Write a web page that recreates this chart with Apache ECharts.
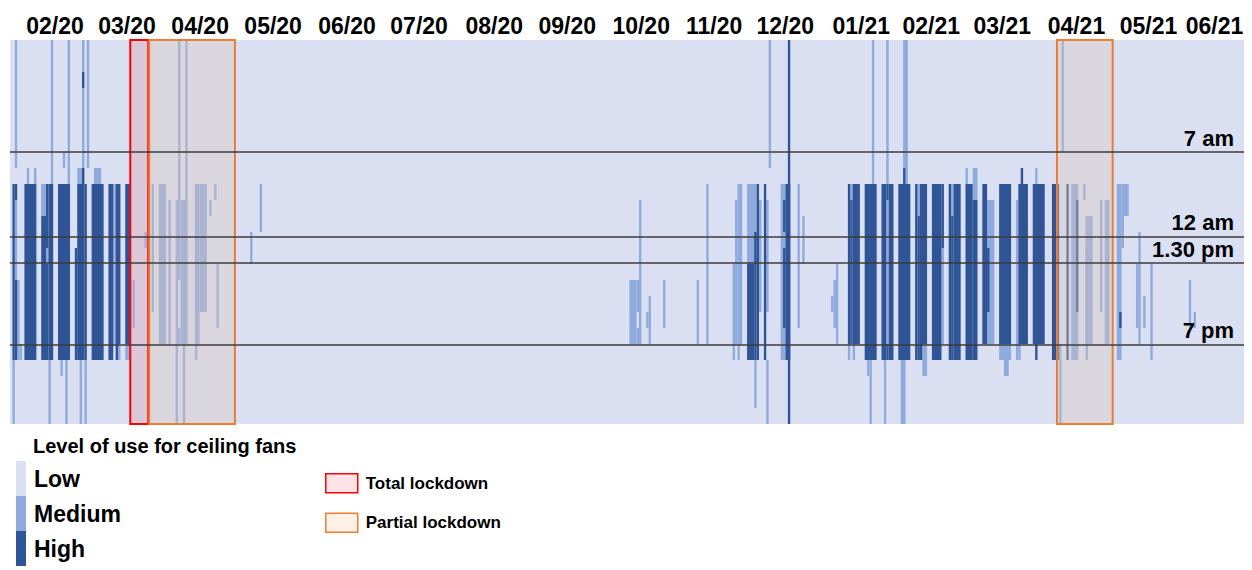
<!DOCTYPE html>
<html>
<head>
<meta charset="utf-8">
<script src="https://cdn.jsdelivr.net/npm/echarts@6/dist/echarts.min.js"></script>
<style>
  html, body { margin: 0; padding: 0; background: #ffffff; }
  #chart { width: 1252px; height: 570px; }
</style>
</head>
<body>
<div id="chart"></div>
<script>
// x = day index since start of the record, y = hour of day (0 at top)
var totalDays = 514;
var monthLabels = ['02/20', '03/20', '04/20', '05/20', '06/20', '07/20', '08/20', '09/20', '10/20',
  '11/20', '12/20', '01/21', '02/21', '03/21', '04/21', '05/21', '06/21'];
var monthLabelDays = [18.75, 48.75, 79.2, 109.6, 140.4, 170.4, 201.7, 232.1, 262.9,
  293.3, 322.9, 354.6, 383.75, 413.3, 444.2, 474.2, 501.7];

// reference hours drawn as lines
var hourLines = [7, 12.3, 13.95, 19.02];
var hourLineLabels = ['7 am', '12 am', '1.30 pm', '7 pm'];

// lockdown periods [fromDay, toDay]
var totalLockdown = [[50.1, 57.6]];
var partialLockdown = [[58, 93.7], [436.1, 459.3]];

// [firstDay, lastDay, fromHour, toHour] ; everything else is "Low"
var mediumStrips = [
  [2, 2, 0, 8], [17, 17, 0, 9], [24, 24, 0, 9], [22, 22, 7, 8], [30, 30, 0, 2], [30, 30, 3, 8], [32, 32, 0, 8],
  [7, 7, 8, 9], [10, 10, 8, 9], [28, 29, 8, 9], [35, 37, 8, 9],
  [2, 2, 10, 15], [3, 3, 15, 20], [4, 4, 19, 20],
  [13, 14, 9, 11], [15, 15, 13, 14],
  [43, 43, 9, 19], [45, 45, 19, 20], [48, 49, 19, 20],
  [1, 1, 20, 24], [16, 16, 20, 24], [21, 21, 20, 21], [23, 23, 20, 24], [29, 29, 20, 24], [31, 31, 20, 24],
  [51, 51, 15, 18], [56, 56, 12, 13],
  [59, 59, 9, 17], [62, 64, 9, 19], [66, 66, 10, 19], [69, 69, 10, 19], [70, 70, 0, 15], [70, 70, 18, 19],
  [71, 73, 10, 19], [73, 73, 0, 10], [69, 69, 19, 24], [72, 72, 19, 24],
  [77, 78, 9, 19], [79, 81, 9, 17], [77, 77, 19, 20],
  [83, 83, 10, 11], [85, 85, 9, 10], [86, 86, 14, 18],
  [100, 100, 12, 14], [104, 104, 9, 12],
  [258, 260, 15, 19], [261, 261, 15, 17], [261, 261, 18, 19], [262, 262, 10, 19],
  [265, 265, 17, 18], [266, 266, 16, 19], [272, 272, 15, 18], [286, 286, 15, 19], [290, 290, 9, 19],
  [301, 301, 14, 20], [302, 302, 10, 19], [303, 304, 9, 19], [303, 303, 19, 20],
  [307, 310, 9, 14], [310, 310, 20, 23], [312, 312, 10, 17],
  [315, 315, 10, 17], [315, 315, 20, 24], [316, 316, 0, 8],
  [321, 322, 9, 20], [328, 328, 9, 18], [330, 330, 11, 14],
  [342, 342, 16, 17], [343, 343, 15, 18], [344, 344, 14, 19],
  [350, 350, 9, 10], [349, 349, 19, 20], [351, 351, 19, 20],
  [357, 357, 20, 21], [358, 358, 20, 24], [359, 359, 0, 9],
  [364, 364, 20, 24], [365, 365, 0, 9], [365, 365, 10, 19],
  [371, 372, 20, 24], [372, 373, 0, 8], [373, 373, 8, 9],
  [378, 378, 9, 11], [380, 381, 19, 21],
  [388, 388, 13, 19], [392, 392, 9, 11],
  [398, 398, 8, 9], [401, 402, 8, 10],
  [407, 409, 10, 19],
  [412, 416, 19, 20], [414, 415, 20, 21],
  [419, 419, 10, 20], [420, 420, 19, 20], [427, 427, 8, 9],
  [437, 437, 19, 24], [438, 438, 0, 7],
  [442, 444, 9, 20], [447, 447, 9, 10], [448, 450, 11, 19], [448, 448, 13, 20],
  [454, 454, 10, 17], [456, 457, 10, 19],
  [461, 462, 9, 20], [463, 463, 9, 13], [464, 465, 9, 11],
  [469, 469, 14, 18], [470, 470, 12, 19], [472, 472, 16, 18], [475, 475, 14, 20],
  [491, 491, 15, 18], [493, 493, 17, 18]
];

var highStrips = [
  [1, 1, 9, 20], [2, 2, 9, 10], [2, 2, 15, 20],
  [6, 10, 9, 20],
  [13, 14, 11, 20], [15, 15, 9, 13], [15, 15, 14, 20], [16, 17, 9, 20],
  [20, 24, 9, 20],
  [27, 27, 13, 20], [28, 29, 9, 20], [30, 30, 8, 20], [31, 31, 9, 20], [30, 30, 2, 3],
  [34, 38, 9, 20],
  [41, 42, 9, 20], [44, 44, 9, 20], [45, 45, 9, 19],
  [48, 49, 9, 19],
  [307, 309, 14, 20], [310, 310, 12, 20], [311, 311, 9, 20],
  [314, 314, 9, 20],
  [322, 322, 10, 12], [322, 322, 13, 18], [323, 324, 9, 20], [324, 324, 0, 24],
  [349, 349, 9, 19], [350, 350, 10, 19], [351, 353, 9, 19],
  [356, 360, 9, 20],
  [363, 364, 9, 20], [365, 365, 9, 10], [365, 365, 19, 20], [366, 367, 9, 20],
  [370, 374, 9, 20], [372, 372, 8, 9],
  [377, 377, 9, 20], [378, 378, 11, 20], [379, 381, 9, 19], [379, 379, 19, 20],
  [384, 387, 9, 20], [388, 388, 9, 13],
  [391, 391, 9, 20], [392, 392, 11, 20], [393, 395, 9, 20],
  [398, 400, 9, 20], [401, 402, 10, 20],
  [405, 406, 9, 19], [407, 407, 13, 17],
  [412, 416, 9, 19],
  [420, 423, 9, 19], [421, 421, 8, 9],
  [426, 430, 9, 19], [427, 427, 19, 20],
  [434, 436, 9, 20], [440, 440, 9, 20], [444, 444, 10, 17], [462, 462, 17, 18]
];

var FONT = "'Liberation Sans', Arial, sans-serif";

function toItems(strips, level) {
  return strips.map(function (s) { return [s[0], s[1], s[2], s[3], level]; });
}

function renderStrip(params, api) {
  var p0 = api.coord([api.value(0), api.value(2)]);
  var p1 = api.coord([api.value(1) + 1, api.value(3)]);
  return {
    type: 'rect',
    shape: {
      x: p0[0],
      y: Math.min(p0[1], p1[1]),
      width: p1[0] - p0[0],
      height: Math.abs(p1[1] - p0[1])
    },
    style: { fill: api.visual('color') }
  };
}

function areas(list) {
  return list.map(function (r) { return [{ xAxis: r[0] }, { xAxis: r[1] }]; });
}

var chart = echarts.init(document.getElementById('chart'), null, { renderer: 'svg' });

var option = {
  animation: false,
  title: {
    text: 'Level of use for ceiling fans',
    left: 33,
    top: 436,
    padding: 0,
    textStyle: { fontSize: 20, fontWeight: 'bold', fontFamily: FONT, color: '#000' }
  },
  grid: {
    left: 10, right: 8, top: 40, bottom: 146,
    show: true, backgroundColor: '#dae0f2', borderWidth: 0
  },
  xAxis: {
    type: 'value',
    position: 'top',
    min: 0,
    max: totalDays,
    axisLine: { show: false },
    axisTick: { show: false },
    splitLine: { show: false },
    axisLabel: {
      customValues: monthLabelDays,
      hideOverlap: false,
      margin: 3,
      fontSize: 23,
      fontWeight: 'bold',
      fontFamily: FONT,
      color: '#000',
      formatter: function (v) {
        var i = monthLabelDays.indexOf(v);
        return i >= 0 ? monthLabels[i] : '';
      }
    }
  },
  yAxis: {
    type: 'value',
    min: 0,
    max: 24,
    inverse: true,
    show: false
  },
  visualMap: {
    type: 'piecewise',
    dimension: 4,
    seriesIndex: [0, 1],
    orient: 'vertical',
    inverse: true,
    left: 16,
    top: 461,
    padding: 0,
    itemWidth: 10,
    itemHeight: 35,
    itemGap: 0,
    itemSymbol: 'rect',
    textGap: 8,
    selectedMode: false,
    hoverLink: false,
    textStyle: { fontSize: 23, fontWeight: 'bold', fontFamily: FONT, color: '#000' },
    pieces: [
      { value: 0, label: 'Low', color: '#dae0f2' },
      { value: 1, label: 'Medium', color: '#8faadc' },
      { value: 2, label: 'High', color: '#2f5597' }
    ]
  },
  legend: {
    orient: 'vertical',
    left: 325,
    top: 473,
    padding: 0,
    itemWidth: 32,
    itemHeight: 19,
    itemGap: 19,
    selectedMode: false,
    textStyle: { fontSize: 17, fontWeight: 'bold', fontFamily: FONT, color: '#000', padding: [0, 0, 0, 3] },
    data: [
      { name: 'Total lockdown', icon: 'rect', itemStyle: { color: '#fde3e7', borderColor: '#ff0000', borderWidth: 1.5 } },
      { name: 'Partial lockdown', icon: 'rect', itemStyle: { color: '#fdf0e6', borderColor: '#ed7d31', borderWidth: 1.5 } }
    ]
  },
  series: [
    {
      name: 'Medium',
      type: 'custom',
      renderItem: renderStrip,
      encode: { x: [0, 1], y: [2, 3] },
      data: toItems(mediumStrips, 1),
      z: 2
    },
    {
      name: 'High',
      type: 'custom',
      renderItem: renderStrip,
      encode: { x: [0, 1], y: [2, 3] },
      data: toItems(highStrips, 2),
      z: 3
    },
    {
      name: 'Total lockdown',
      type: 'line',
      data: [],
      z: 10,
      markArea: {
        silent: true,
        z: 10,
        itemStyle: { color: 'rgba(223,164,184,0.42)', borderColor: '#ff0000', borderWidth: 2 },
        data: areas(totalLockdown)
      }
    },
    {
      name: 'Partial lockdown',
      type: 'line',
      data: [],
      z: 10,
      markArea: {
        silent: true,
        z: 10,
        itemStyle: { color: 'rgba(215,197,190,0.38)', borderColor: '#ed7d31', borderWidth: 2 },
        data: areas(partialLockdown)
      }
    },
    {
      name: 'Hours',
      type: 'line',
      data: [],
      z: 12,
      markLine: {
        silent: true,
        symbol: 'none',
        z: 12,
        lineStyle: { color: '#3c3c3c', width: 1.5, type: 'solid' },
        label: {
          position: 'insideEndTop',
          distance: [10, 3],
          fontSize: 22,
          fontWeight: 'bold',
          fontFamily: FONT,
          color: '#000',
          formatter: function (p) { return hourLineLabels[p.dataIndex]; }
        },
        data: hourLines.map(function (h) { return { yAxis: h }; })
      }
    }
  ]
};

chart.setOption(option);
</script>
</body>
</html>
